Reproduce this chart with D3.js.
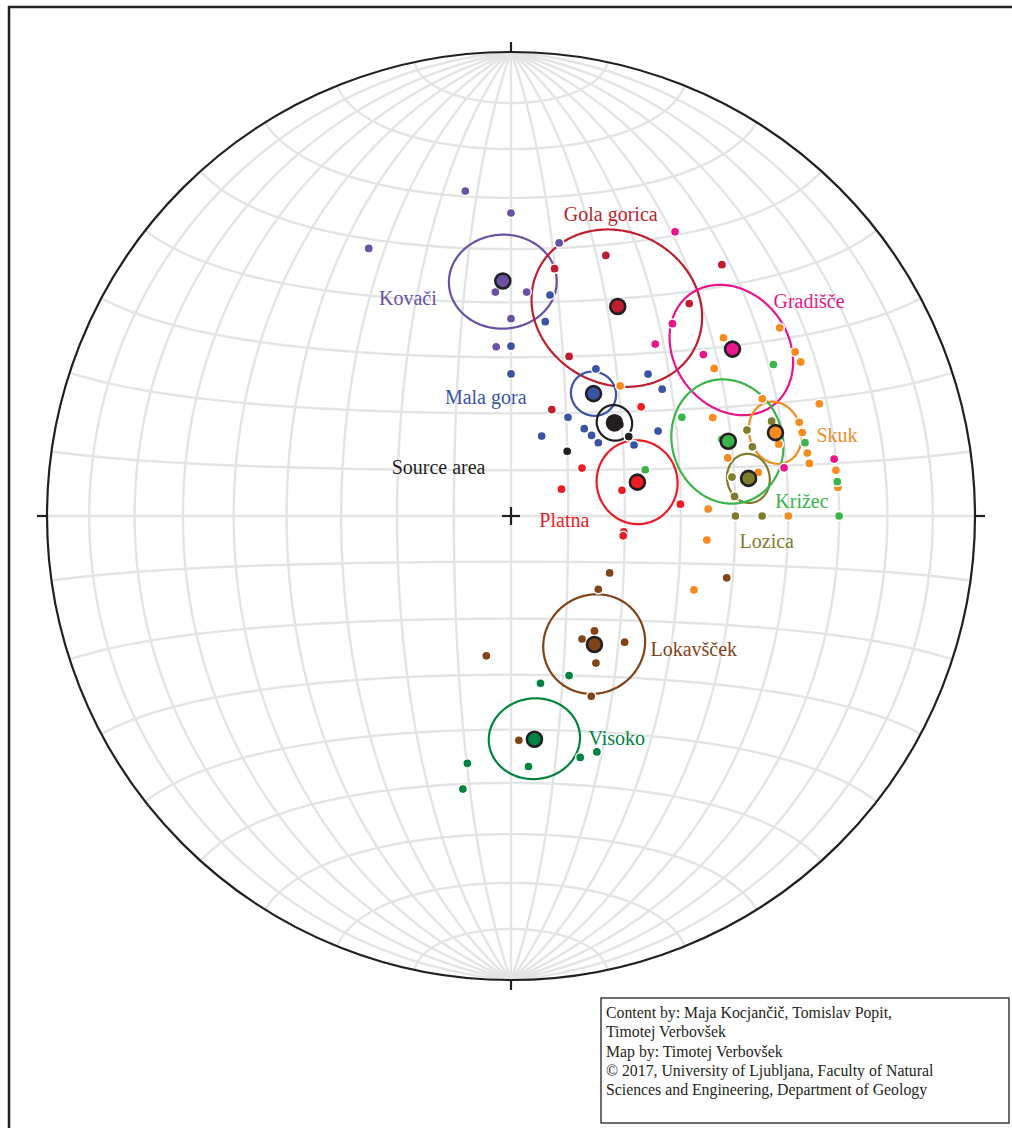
<!DOCTYPE html>
<html>
<head>
<meta charset="utf-8">
<script src="https://cdn.jsdelivr.net/npm/d3@7"></script>
<style>
  body { margin: 0; background: #fff; }
  text { font-family: "Liberation Serif", "DejaVu Serif", serif; }
</style>
</head>
<body>
<svg width="1012" height="1128"></svg>
<script>
// sites, in drawing order
var sites = ["Kovači", "Gola gorica", "Mala gora", "Source area", "Platna", "Gradišče",
             "Skuk", "Lozica", "Križec", "Lokavšček", "Visoko"];

// single measurements as [trend, plunge] in degrees
var kovaci = [[352,30],[0,35],[332,35],[10,40],[356,50],[4,50],[0,55],[355,60]];
var golaGorica = [[20,40],[10,45],[40,30],[40,40],[20,60],[21,70]];
var malaGora = [[10,50],[10,55],[0,60],[0,65],[30,60],[44,55],[50,55],[30,70],[21,75],
                [40,70],[45,70],[50,70],[60,65],[60,60]];
var sourceArea = [[56,65],[41,75],[50,65]];
var platna = [[50,60],[56,75],[62,80],[77,70],[86,60],[98,70],[100,70]];
var gradisce = [[30,30],[40,45],[40,50],[50,45],[80,40],[80,30]];
var skuk = [[55,30],[50,40],[60,30],[62,30],[54,45],[40,60],[65,40],[70,30],[64,50],[72,35],
            [74,35],[75,40],[78,35],[80,35],[75,50],[80,45],[82,30],[85,30],[88,55],[90,40],
            [97,55],[112,55]];
var lozica = [[70,40],[70,45],[74,45],[80,50],[85,50],[90,50],[90,45]];
var krizec = [[60,55],[76,35],[84,30],[90,30],[71,65],[60,35],[70,50]];
var lokavscek = [[120,70],[106,50],[130,70],[144,65],[150,65],[138,60],[150,60],[190,65],
                 [156,55],[178,50]];
var visoko = [[170,60],[160,60],[176,45],[164,45],[160,45],[190,45],[190,40]];

var measurements = [kovaci, golaGorica, malaGora, sourceArea, platna, gradisce,
                    skuk, lozica, krizec, lokavscek, visoko];

// site means and 95% confidence cones
var meanTrend  = [358, 27, 34, 48, 75, 53, 72.5, 81, 71, 147, 174];
var meanPlunge = [48, 48, 64, 65.5, 67, 40, 40, 47, 49, 63, 50];
var alpha95    = [8.8, 14.3, 3.9, 3.1, 7.2, 11, 5, 4, 10.3, 8.8, 7.5];

var credits = ["Content by: Maja Kocjančič, Tomislav Popit,",
               "Timotej Verbovšek",
               "Map by: Timotej Verbovšek",
               "© 2017, University of Ljubljana, Faculty of Natural",
               "Sciences and Engineering, Department of Geology"];

// ---- styling / layout ----
var colors = ["#6a51a3", "#be1e2d", "#3a53a4", "#231f20", "#ed1c24", "#e8168a",
              "#f68b1f", "#7f7c2e", "#39b54a", "#7f4418", "#00843f"];
var color = d3.scaleOrdinal(sites, colors);

// label offsets from the site mean, same order as sites
var labelDx = [-66, -7, -67, -129, -48, 41, 41, -9, 47, 56, 54];
var labelDy = [24, -85, 10, 51, 45, -41, 9, 70, 67, 12, 6];
var labelAnchor = ["end", "middle", "end", "end", "end", "start", "start", "start", "start", "start", "start"];

var svg = d3.select("svg"),
    R = 464, cx = 511, cy = 516;

var projection = d3.geoAzimuthalEqualArea()
    .rotate([0, 0])
    .scale(R / Math.SQRT2)
    .translate([cx, cy])
    .precision(0.1);
var path = d3.geoPath(projection);

// trend/plunge of a line -> lon/lat on the net (lower hemisphere)
function toGeo(tp) {
  var t = tp[0] * Math.PI / 180,
      c = (90 - tp[1]) * Math.PI / 180;
  return [Math.atan2(Math.sin(t) * Math.sin(c), Math.cos(c)) * 180 / Math.PI,
          Math.asin(Math.sin(c) * Math.cos(t)) * 180 / Math.PI];
}

// frame
svg.append("line").attr("x1", 8).attr("y1", 7).attr("x2", 1012).attr("y2", 7)
  .attr("stroke", "#231f20").attr("stroke-width", 2.5);
svg.append("line").attr("x1", 9).attr("y1", 6).attr("x2", 9).attr("y2", 1128)
  .attr("stroke", "#231f20").attr("stroke-width", 2.5);

// net
var meridians = d3.range(-80, 81, 10).map(function(lon) {
  return {type: "LineString", coordinates: d3.range(-90, 90.01, 1).map(function(lat) { return [lon, lat]; })};
});
var parallelLats = [0].concat(d3.range(8, 80, 10)).concat(d3.range(-8, -80, -10));
var parallels = parallelLats.map(function(lat) {
  return {type: "LineString", coordinates: d3.range(-90, 90.01, 1).map(function(lon) { return [lon, lat]; })};
});

var grid = svg.append("g")
    .attr("fill", "none")
    .attr("stroke", "#e3e4e5")
    .attr("stroke-width", 2.4);
grid.selectAll(".mer").data(meridians).enter().append("path").attr("class", "mer").attr("d", path);
grid.selectAll(".par").data(parallels).enter().append("path").attr("class", "par").attr("d", path);

svg.append("circle").attr("cx", cx).attr("cy", cy).attr("r", R)
  .attr("fill", "none").attr("stroke", "#231f20").attr("stroke-width", 2.2);

// ticks at N, E, S, W
[[0, 90], [90, 0], [0, -90], [-90, 0]].forEach(function(p) {
  var a = projection(p), dx = a[0] - cx, dy = a[1] - cy, l = Math.sqrt(dx * dx + dy * dy);
  svg.append("line")
    .attr("x1", a[0]).attr("y1", a[1])
    .attr("x2", a[0] + dx / l * 10).attr("y2", a[1] + dy / l * 10)
    .attr("stroke", "#231f20").attr("stroke-width", 2.2);
});

// centre cross
var c0 = projection([0, 0]);
svg.append("line").attr("x1", c0[0] - 9).attr("x2", c0[0] + 9).attr("y1", c0[1]).attr("y2", c0[1])
  .attr("stroke", "#231f20").attr("stroke-width", 2.2);
svg.append("line").attr("x1", c0[0]).attr("x2", c0[0]).attr("y1", c0[1] - 9).attr("y2", c0[1] + 9)
  .attr("stroke", "#231f20").attr("stroke-width", 2.2);

// confidence cones
var cones = sites.map(function(s, i) {
  return d3.geoCircle().center(toGeo([meanTrend[i], meanPlunge[i]])).radius(alpha95[i]).precision(1)();
});
svg.append("g").selectAll("path")
  .data(cones).enter().append("path")
  .attr("d", path)
  .attr("fill", "none")
  .attr("stroke", function(d, i) { return color(sites[i]); })
  .attr("stroke-width", 2.2);

// measurements
sites.forEach(function(s, i) {
  svg.append("g").selectAll("circle")
    .data(measurements[i]).enter().append("circle")
    .attr("cx", function(d) { return projection(toGeo(d))[0]; })
    .attr("cy", function(d) { return projection(toGeo(d))[1]; })
    .attr("r", 4.6)
    .attr("fill", color(s))
    .attr("stroke", "#fff")
    .attr("stroke-width", 1.5);
});

// means
var meanPts = sites.map(function(s, i) { return projection(toGeo([meanTrend[i], meanPlunge[i]])); });
svg.append("g").selectAll("circle")
  .data(meanPts).enter().append("circle")
  .attr("cx", function(d) { return d[0]; })
  .attr("cy", function(d) { return d[1]; })
  .attr("r", 7.5)
  .attr("fill", function(d, i) { return color(sites[i]); })
  .attr("stroke", "#231f20")
  .attr("stroke-width", 2.6);

// labels
svg.append("g").selectAll("text")
  .data(sites).enter().append("text")
  .attr("x", function(d, i) { return meanPts[i][0] + labelDx[i]; })
  .attr("y", function(d, i) { return meanPts[i][1] + labelDy[i]; })
  .attr("text-anchor", function(d, i) { return labelAnchor[i]; })
  .attr("font-size", 20)
  .attr("fill", function(d) { return color(d); })
  .text(function(d) { return d; });

// credits box
svg.append("rect").attr("x", 601).attr("y", 998).attr("width", 408).attr("height", 125)
  .attr("fill", "#fff").attr("stroke", "#231f20").attr("stroke-width", 1.3);
svg.append("g").selectAll("text")
  .data(credits).enter().append("text")
  .attr("x", 606)
  .attr("y", function(d, i) { return 1018 + i * 19.3; })
  .attr("font-size", 15.8)
  .attr("fill", "#231f20")
  .text(function(d) { return d; });
</script>
</body>
</html>
